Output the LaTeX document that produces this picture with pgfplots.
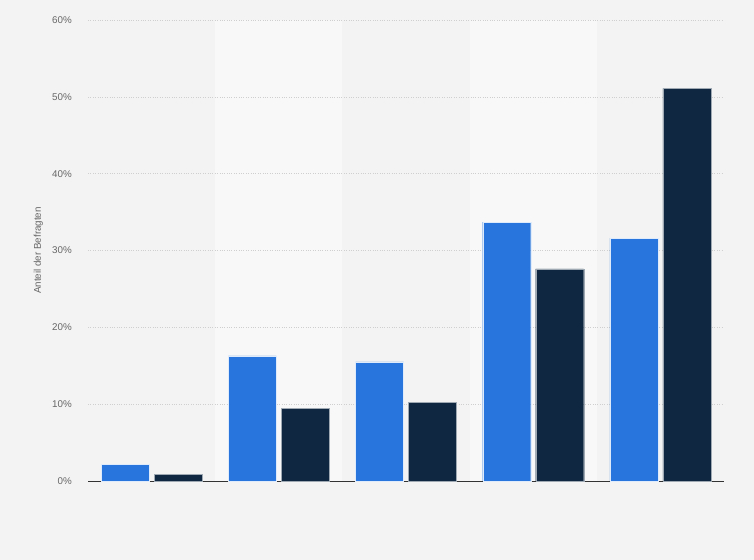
\documentclass[border=0pt]{standalone}
\usepackage{pgfplots}
\pgfplotsset{compat=1.18}
\usepackage{fontspec}
\setmainfont{Liberation Sans}
\definecolor{bg}{HTML}{F3F3F3}
\definecolor{band}{HTML}{F8F8F8}
\definecolor{sblue}{HTML}{2876DD}
\definecolor{sdark}{HTML}{0F2740}
\definecolor{tickgray}{HTML}{666666}
\definecolor{gridgray}{HTML}{CFCFCF}
\begin{document}
\begin{tikzpicture}[x=1bp,y=1bp]
\fill[bg] (0,0) rectangle (754,560);
\fill[band] (215.2,79) rectangle (342.4,540);
\fill[band] (469.6,79) rectangle (596.8,540);
\begin{axis}[
  at={(88bp,79bp)}, anchor=south west,
  scale only axis, width=636bp, height=461bp,
  xmin=-0.5, xmax=4.5, ymin=0, ymax=60,
  axis x line*=bottom, axis y line*=left,
  x axis line style={draw=black!80, line width=0.9pt},
  y axis line style={draw=none},
  xtick=\empty,
  ytick={0,10,20,30,40,50,60},
  ymajorgrids,
  grid style={gridgray, dotted, line width=0.6pt},
  major tick length=0pt,
  /pgf/number format/assume math mode=true,
  yticklabel={\pgfmathprintnumber{\tick}\%},
  yticklabel style={font=\fontsize{9.8bp}{11bp}\selectfont, text=tickgray, anchor=east, inner sep=0pt, xshift=-16bp},
  ylabel={Anteil der Befragten},
  ylabel style={font=\fontsize{9.8bp}{11bp}\selectfont, text=tickgray, at={(axis description cs:-0.078,0.5)}, anchor=center, rotate=0},
  ybar=5bp, bar width=48bp,
  clip=false,
]
\addplot[fill=sblue, draw=white!85!sblue, line width=0.4pt] coordinates {(0,2.2) (1,16.3) (2,15.5) (3,33.7) (4,31.6)};
\addplot[fill=sdark, draw=white!60!sdark, line width=0.4pt] coordinates {(0,0.9) (1,9.5) (2,10.2) (3,27.6) (4,51.1)};
\end{axis}
\end{tikzpicture}
\end{document}
